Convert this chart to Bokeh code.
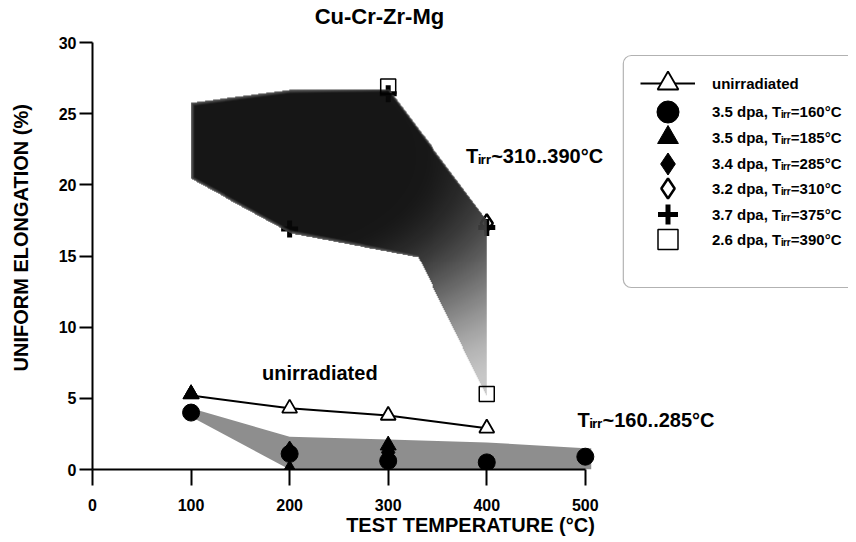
import numpy as np
from bokeh.plotting import figure
from bokeh.models import Range1d, Legend, LegendItem, Label, BoxAnnotation, FixedTicker
from bokeh.embed import file_html
from bokeh.resources import INLINE

FONT = "Liberation Sans"

# ---------------- data ----------------
x_ticks = [0, 100, 200, 300, 400, 500]
y_ticks = [0, 5, 10, 15, 20, 25, 30]

unirr_T = [100, 200, 300, 400]
unirr_E = [5.2, 4.3, 3.8, 2.9]

s160_T = [100, 200, 300, 400, 500]
s160_E = [4.0, 1.1, 0.6, 0.5, 0.9]
s185_T = [100, 200, 300, 400]
s185_E = [5.3, 0.0, 1.7, 0.0]
s285_T = [200, 300, 400]
s285_E = [1.3, 1.2, 0.3]
s310_T = [400]
s310_E = [17.3]
s375_T = [200, 300, 400]
s375_E = [16.9, 26.4, 17.0]
s390_T = [300, 400]
s390_E = [26.9, 5.3]

# scatter band Tirr~160..285 C (upper edge / lower edge)
low_top_T = [100, 200, 300, 400, 500, 506]
low_top_E = [4.3, 2.3, 2.1, 1.9, 1.5, 1.5]
low_bot_T = [506, 200, 100]
low_bot_E = [0.0, 0.0, 3.7]

# scatter band Tirr~310..390 C
up_top_T = [100, 200, 300, 400]
up_top_E = [25.7, 26.6, 26.7, 17.4]
up_bot_T = [100, 200, 330, 400]
up_bot_E = [20.4, 16.6, 14.9, 5.0]

SUB = "T\u1d62\u1d63\u1d63"
labels = ["unirradiated",
          "3.5 dpa, " + SUB + "=160°C",
          "3.5 dpa, " + SUB + "=185°C",
          "3.4 dpa, " + SUB + "=285°C",
          "3.2 dpa, " + SUB + "=310°C",
          "3.7 dpa, " + SUB + "=375°C",
          "2.6 dpa, " + SUB + "=390°C"]

# ---------------- figure ----------------
X_END = 767
TOP, BOTTOM_PX = 42, 469          # page y of the 30 % tick and of the 0 % axis
pxx = 493.0 / 500.0               # px per degree
pxy = (BOTTOM_PX - TOP) / 30.0    # px per % elongation
Y_END = 30 + TOP / pxy            # frame reaches the top of the page (room for the title)

p = figure(width=848, height=540, output_backend="svg", toolbar_location=None,
           x_range=Range1d(0, X_END), y_range=Range1d(0, Y_END),
           min_border_left=92, min_border_right=0, min_border_top=0, min_border_bottom=71)
p.outline_line_color = None
p.grid.visible = False
p.background_fill_color = "white"

for ax in (p.xaxis[0], p.yaxis[0]):
    ax.axis_line_width = 2
    ax.axis_line_color = "black"
    ax.major_tick_line_width = 2
    ax.major_tick_line_color = "black"
    ax.major_tick_in = 0
    ax.minor_tick_line_color = None
    ax.major_label_text_font = FONT
    ax.major_label_text_font_style = "bold"
    ax.major_label_text_font_size = "16px"
    ax.major_label_text_color = "black"
    ax.axis_label_text_font = FONT
    ax.axis_label_text_font_style = "bold"
    ax.axis_label_text_font_size = "20px"
    ax.axis_label_text_color = "black"

p.xaxis.ticker = FixedTicker(ticks=x_ticks)
p.xaxis.bounds = (min(x_ticks), max(x_ticks))
p.xaxis.axis_label = "TEST TEMPERATURE (°C)"
p.xaxis.major_tick_out = 16
p.xaxis.major_label_standoff = 13
p.xaxis.axis_label_standoff = 0

p.yaxis.ticker = FixedTicker(ticks=y_ticks)
p.yaxis.bounds = (min(y_ticks), max(y_ticks))
p.yaxis.axis_label = "UNIFORM  ELONGATION (%)"
p.yaxis.major_tick_out = 13
p.yaxis.major_label_standoff = 3
p.yaxis.axis_label_standoff = 24

# ---------------- upper markers, drawn below the shading ----------------
r310 = p.scatter(s310_T, s310_E, marker="diamond", size=18, fill_color="white",
                 line_color="black", line_width=2.5)
r375 = p.scatter(s375_T, s375_E, marker="cross", size=17, line_color="black", line_width=5)

# ---------------- upper shading as a gradient raster ----------------
x0, x1 = min(up_top_T), max(up_top_T)
y0, y1 = min(up_bot_E), max(up_top_E)
nx, ny = 300, 310
xs = x0 + (np.arange(nx) + 0.5) * (x1 - x0) / nx
ys = y0 + (np.arange(ny) + 0.5) * (y1 - y0) / ny
X, Y = np.meshgrid(xs, ys)
top = np.interp(X, up_top_T, up_top_E)
bot = np.interp(X, up_bot_T, up_bot_E)
mask = (Y >= bot) & (Y <= top)
d = np.sqrt(((X - 190) / 130.0) ** 2 + ((Y - 22) / 6.0) ** 2)
u = np.clip((d - 1.0) / 2.2, 0, 1)
t = u * u * (3 - 2 * u)
g = 0.03 + 0.75 * t
edge = np.minimum.reduce([(Y - bot) * pxy, (top - Y) * pxy, (X - x0) * pxx])
g = np.maximum(g, 0.35 * np.clip(1 - edge / 4.0, 0, 1))
img = np.zeros((ny, nx), dtype=np.uint32)
view = img.view(dtype=np.uint8).reshape((ny, nx, 4))
lev = (g * 255).astype(np.uint8)
view[:, :, 0] = lev
view[:, :, 1] = lev
view[:, :, 2] = lev
view[:, :, 3] = np.where(mask, 240, 0).astype(np.uint8)
p.image_rgba(image=[img], x=x0, y=y0, dw=x1 - x0, dh=y1 - y0)

# ---------------- lower shading ----------------
p.patch(low_top_T + low_bot_T, low_top_E + low_bot_E, fill_color="#8e8e8e", line_color=None)

# ---------------- lower markers ----------------
r285 = p.scatter(s285_T, s285_E, marker="diamond", size=20, fill_color="black", line_color="black")
r185 = p.scatter(s185_T, s185_E, marker="triangle", size=16, fill_color="black", line_color="black")
r160 = p.scatter(s160_T, s160_E, marker="circle", size=17, fill_color="black", line_color="black")

# ---------------- unirradiated ----------------
rl = p.line(unirr_T, unirr_E, line_color="black", line_width=2)
ru = p.scatter(unirr_T[1:], unirr_E[1:], marker="triangle", size=15, fill_color="white",
               line_color="black", line_width=1.8)
p.scatter(s185_T[:1], s185_E[:1], marker="triangle", size=16, fill_color="black", line_color="black")

r390 = p.scatter(s390_T, s390_E, marker="square", size=15, fill_alpha=0,
                 line_color="black", line_width=1.5)

# ---------------- text labels ----------------
def lab(x, y, text, size, align="left"):
    p.add_layout(Label(x=x, y=y, text=text, text_font=FONT, text_font_style="bold",
                       text_font_size=size, text_baseline="middle", text_align=align,
                       text_color="black"))

# title, centred at page (379, 16)
lab((379 - 92) / pxx, 30 + (TOP - 16) / pxy, "Cu-Cr-Zr-Mg", "22px", "center")
lab(172, 6.8, "unirradiated", "20px")
lab(379, 22.0, SUB + "~310..390°C", "20px")
lab(492, 3.5, SUB + "~160..285°C", "20px")

# ---------------- legend ----------------
box = BoxAnnotation(left=(623 - 92) / pxx, right=X_END + 50,
                    top=30 - (55 - TOP) / pxy, bottom=30 - (287 - TOP) / pxy,
                    fill_color="white", fill_alpha=1.0, line_color="black", line_width=1.2)
if "border_radius" in BoxAnnotation.properties():
    box.border_radius = 8
p.add_layout(box)

renderer_sets = [[rl, ru], [r160], [r185], [r285], [r310], [r375], [r390]]
row_centres = [83, 112, 137.5, 163, 188, 213.5, 239]    # page pixels
glyph_heights = [52, 55, 52, 55, 50, 50, 50]
for lbl, rs, c, gh in zip(labels, renderer_sets, row_centres, glyph_heights):
    leg = Legend(items=[LegendItem(label=lbl, renderers=rs)],
                 location=(640 - 92, int(round(BOTTOM_PX - c - gh / 2))),
                 glyph_width=55, glyph_height=gh, label_height=20, spacing=0,
                 padding=0, margin=0, label_standoff=17,
                 label_text_font=FONT, label_text_font_style="bold",
                 label_text_font_size="15px", label_text_color="black",
                 border_line_color=None, background_fill_alpha=0)
    p.add_layout(leg)

open("out.html", "w").write(file_html(p, INLINE))
